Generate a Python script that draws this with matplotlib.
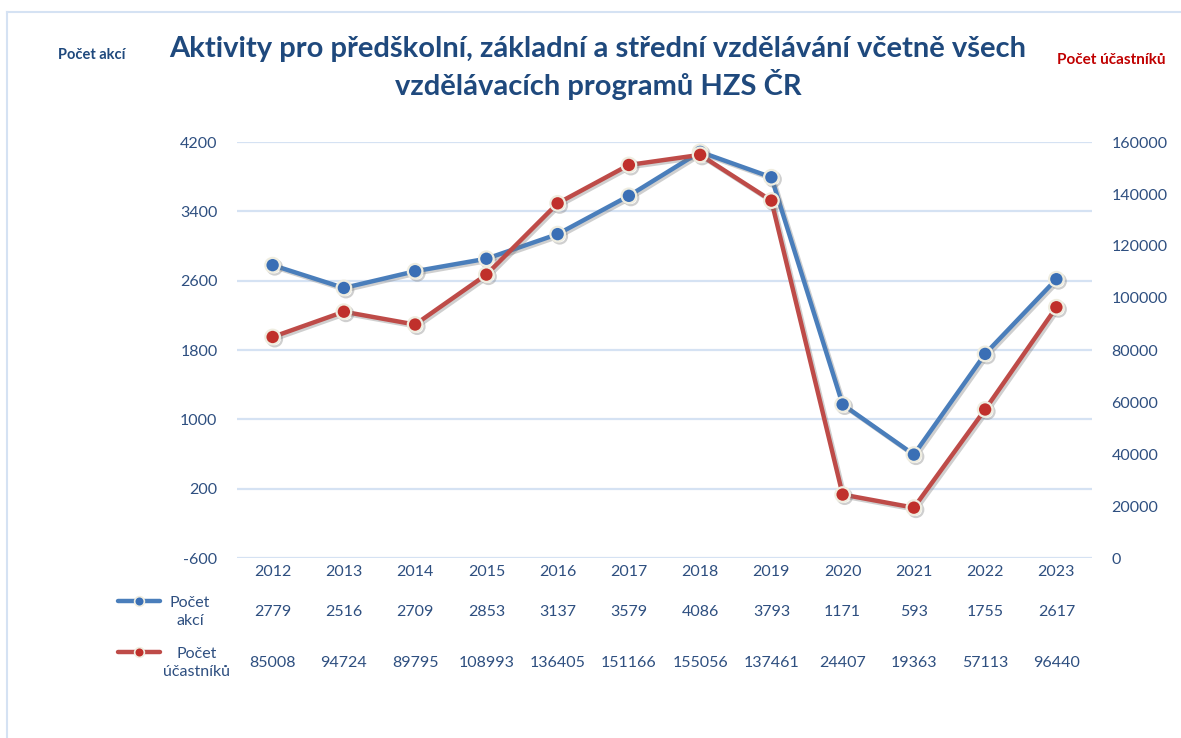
#!/usr/bin/env python3
import matplotlib.pyplot as plt
import matplotlib.patheffects as pe
from matplotlib.lines import Line2D

years = ['2012', '2013', '2014', '2015', '2016', '2017',
         '2018', '2019', '2020', '2021', '2022', '2023']
akce = [2779, 2516, 2709, 2853, 3137, 3579, 4086, 3793, 1171, 593, 1755, 2617]
ucastnici = [85008, 94724, 89795, 108993, 136405, 151166,
             155056, 137461, 24407, 19363, 57113, 96440]
left_ticks = [-600, 200, 1000, 1800, 2600, 3400, 4200]
right_ticks = [0, 20000, 40000, 60000, 80000, 100000, 120000, 140000, 160000]

blue = '#4A7EBB'
red = '#BE4B48'
txt = '#2E4F80'
title_col = '#1F497D'
grid_col = '#D5E2F3'

plt.rcParams['font.family'] = ['Lato', 'DejaVu Sans']
plt.rcParams['axes.unicode_minus'] = False

fig = plt.figure(figsize=(11.81, 7.38), dpi=100)
W, H = 1181, 738

# plot area in pixels: x 237..1092, y 142..558
ax = fig.add_axes([237 / W, 1 - 558 / H, (1092 - 237) / W, (558 - 142) / H])
ax2 = ax.twinx()

x = list(range(len(years)))
shadow = [pe.SimpleLineShadow(offset=(1.5, -1.5), shadow_color='#777777', alpha=0.35),
          pe.Normal()]

ax.plot(x, akce, color=blue, lw=3.2, marker='o', ms=10.5, mfc='#3A6FB5',
        mec='#EFEDE0', mew=1.6, zorder=3, path_effects=shadow)
ax2.plot(x, ucastnici, color=red, lw=3.2, marker='o', ms=10.5, mfc='#C0302B',
         mec='#EFEDE0', mew=1.6, zorder=3, path_effects=shadow)

ax.set_xlim(-0.5, len(years) - 0.5)
ax.set_ylim(-600, 4200)
ax2.set_ylim(0, 160000)
ax.set_yticks(left_ticks)
ax2.set_yticks(right_ticks)
ax.set_xticks([])
for t in left_ticks:
    ax.axhline(t, color=grid_col, lw=1.6, zorder=0)

for a in (ax, ax2):
    for s in a.spines.values():
        s.set_visible(False)
    a.tick_params(length=0, labelsize=11.5, labelcolor=txt)
ax.tick_params(axis='y', pad=14)
ax2.tick_params(axis='y', pad=14)

# data table under the plot
def fx(i):
    return (237 + (i + 0.5) * (1092 - 237) / len(years)) / W

for i, y in enumerate(years):
    fig.text(fx(i), 1 - 572 / H, y, ha='center', va='center', fontsize=11.5, color=txt)
    fig.text(fx(i), 1 - 612 / H, str(akce[i]), ha='center', va='center', fontsize=11.5, color=txt)
    fig.text(fx(i), 1 - 663 / H, str(ucastnici[i]), ha='center', va='center', fontsize=11.5, color=txt)

fig.text(190 / W, 1 - 612 / H, 'Počet\nakcí', ha='center', va='center',
         fontsize=11.5, color=txt, linespacing=1.35)
fig.text(197 / W, 1 - 663 / H, 'Počet\núčastníků', ha='center', va='center',
         fontsize=11.5, color=txt, linespacing=1.35)

for yy, c, mc in [(601, blue, '#3A6FB5'), (652, red, '#C0302B')]:
    fig.add_artist(Line2D([118 / W, 160 / W], [1 - yy / H, 1 - yy / H], color=c, lw=3.2,
                          solid_capstyle='round'))
    fig.add_artist(Line2D([139 / W], [1 - yy / H], marker='o', ms=7, mfc=mc,
                          mec='#EFEDE0', mew=1.2, lw=0))

# titles and axis names
fig.text(598 / W, 1 - 68 / H,
         'Aktivity pro předškolní, základní a střední vzdělávání včetně všech\n'
         'vzdělávacích programů HZS ČR',
         ha='center', va='center', fontsize=21, fontweight='bold',
         color=title_col, linespacing=1.25)
fig.text(92 / W, 1 - 55 / H, 'Počet akcí', ha='center', va='center',
         fontsize=10.5, fontweight='bold', color=title_col)
fig.text(1111 / W, 1 - 60 / H, 'Počet účastníků', ha='center', va='center',
         fontsize=11, fontweight='bold', color='#C00000')

# outer frame (partly cropped)
fig.add_artist(Line2D([7 / W, 7 / W], [0, 1 - 12 / H], color=grid_col, lw=1.5))
fig.add_artist(Line2D([7 / W, 1], [1 - 12 / H, 1 - 12 / H], color=grid_col, lw=1.5))

fig.savefig('out.png', dpi=100)
